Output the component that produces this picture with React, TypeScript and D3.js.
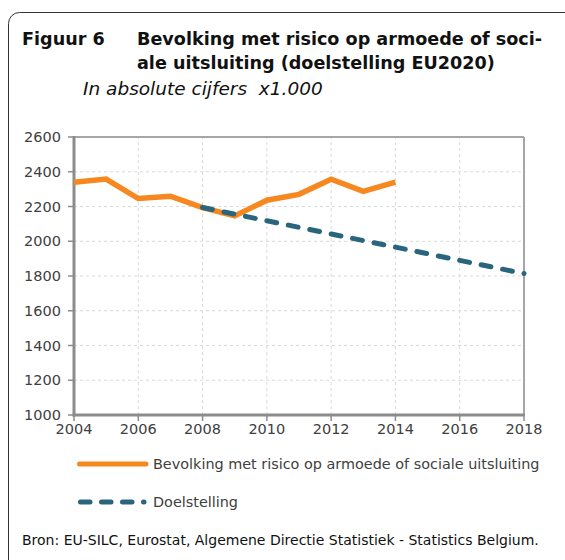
import React from "react";
import * as d3 from "d3";

const years = [2004, 2005, 2006, 2007, 2008, 2009, 2010, 2011, 2012, 2013, 2014];
const riskValues = [2340, 2358, 2246, 2259, 2194, 2146, 2236, 2270, 2357, 2287, 2340];
const targetYears = [2008, 2018];
const targetValues = [2194, 1814];
const xTicks = [2004, 2006, 2008, 2010, 2012, 2014, 2016, 2018];
const yTicks = [1000, 1200, 1400, 1600, 1800, 2000, 2200, 2400, 2600];
const seriesNames = ["Bevolking met risico op armoede of sociale uitsluiting", "Doelstelling"];

const W = 565, H = 560;
const FONT = "'DejaVu Sans', sans-serif";
const ORANGE = "#F7871F";
const TEAL = "#2A657E";

export default function App() {
  const x = d3.scaleLinear().domain([2004, 2018]).range([74, 524]);
  const y = d3.scaleLinear().domain([1000, 2600]).range([415, 137]);
  const line = d3.line<[number, number]>().x(d => x(d[0])).y(d => y(d[1]));
  const riskPts: [number, number][] = years.map((yr, i) => [yr, riskValues[i]]);
  const targetPts: [number, number][] = targetYears.map((yr, i) => [yr, targetValues[i]]);
  const [x0, x1] = x.range();
  const [yb, yt] = y.range();
  const tLen = Math.hypot(x(targetYears[1]) - x(targetYears[0]), y(targetValues[1]) - y(targetValues[0]));
  const period = tLen / 15;
  return (
    <svg width={W} height={H} style={{ position: "absolute", left: 0, top: 0 }} fontFamily={FONT}>
      <rect x={0} y={0} width={W} height={H} fill="#fff" />
      <rect x={8.5} y={12.5} width={W + 20} height={H + 20} rx={11} fill="none" stroke="#333" strokeWidth={1} />
      <text x={22} y={45} fontSize={17.6} fontWeight="bold" fill="#111">Figuur 6</text>
      <text x={137} y={45} fontSize={17.6} fontWeight="bold" fill="#111">Bevolking met risico op armoede of soci-</text>
      <text x={137} y={69} fontSize={17.6} fontWeight="bold" fill="#111">ale uitsluiting (doelstelling EU2020)</text>
      <text x={83} y={95} fontSize={18.5} fontStyle="italic" fill="#111" style={{ whiteSpace: "pre" }}>In absolute cijfers  x1.000</text>

      {yTicks.slice(1, -1).map(t => (
        <line key={"gy" + t} x1={x0} x2={x1} y1={y(t)} y2={y(t)} stroke="#d9d9d9" strokeDasharray="3 3" />
      ))}
      {xTicks.slice(1, -1).map(t => (
        <line key={"gx" + t} x1={x(t)} x2={x(t)} y1={yb} y2={yt} stroke="#d9d9d9" strokeDasharray="3 3" />
      ))}
      <line x1={x0} x2={x1} y1={yt} y2={yt} stroke="#a6a6a6" strokeWidth={2} />
      <line x1={x1} x2={x1} y1={yt} y2={yb} stroke="#a6a6a6" strokeWidth={2} />
      <line x1={x0} x2={x0} y1={yt - 1} y2={yb + 1.5} stroke="#8c8c8c" strokeWidth={3} />
      <line x1={x0 - 1.5} x2={x1 + 1} y1={yb} y2={yb} stroke="#8c8c8c" strokeWidth={3} />
      {yTicks.map(t => (
        <g key={"ty" + t}>
          <line x1={x0 - 6} x2={x0} y1={y(t)} y2={y(t)} stroke="#8c8c8c" strokeWidth={1.5} />
          <text x={61} y={y(t) + 5} fontSize={14.5} textAnchor="end" fill="#404040">{t}</text>
        </g>
      ))}
      {xTicks.map(t => (
        <g key={"tx" + t}>
          <line x1={x(t)} x2={x(t)} y1={yb} y2={yb + 6} stroke="#8c8c8c" strokeWidth={1.5} />
          <text x={x(t)} y={434} fontSize={14.5} textAnchor="middle" fill="#404040">{t}</text>
        </g>
      ))}

      <path d={line(riskPts) || ""} fill="none" stroke={ORANGE} strokeWidth={5.5} strokeLinejoin="miter" />
      <path d={line(targetPts) || ""} fill="none" stroke={TEAL} strokeWidth={5} strokeLinecap="round" strokeDasharray={`10 ${period - 10}`} />

      <line x1={79.5} x2={146} y1={464} y2={464} stroke={ORANGE} strokeWidth={5} strokeLinecap="round" />
      <text x={153} y={469} fontSize={14.4} fill="#404040">{seriesNames[0]}</text>
      <line x1={80.5} x2={144} y1={502} y2={502} stroke={TEAL} strokeWidth={5} strokeLinecap="round" strokeDasharray="9.5 11.5" />
      <text x={153} y={507} fontSize={14.4} fill="#404040">{seriesNames[1]}</text>

      <text x={22} y={545} fontSize={14} fill="#111">Bron: EU-SILC, Eurostat, Algemene Directie Statistiek - Statistics Belgium.</text>
    </svg>
  );
}
